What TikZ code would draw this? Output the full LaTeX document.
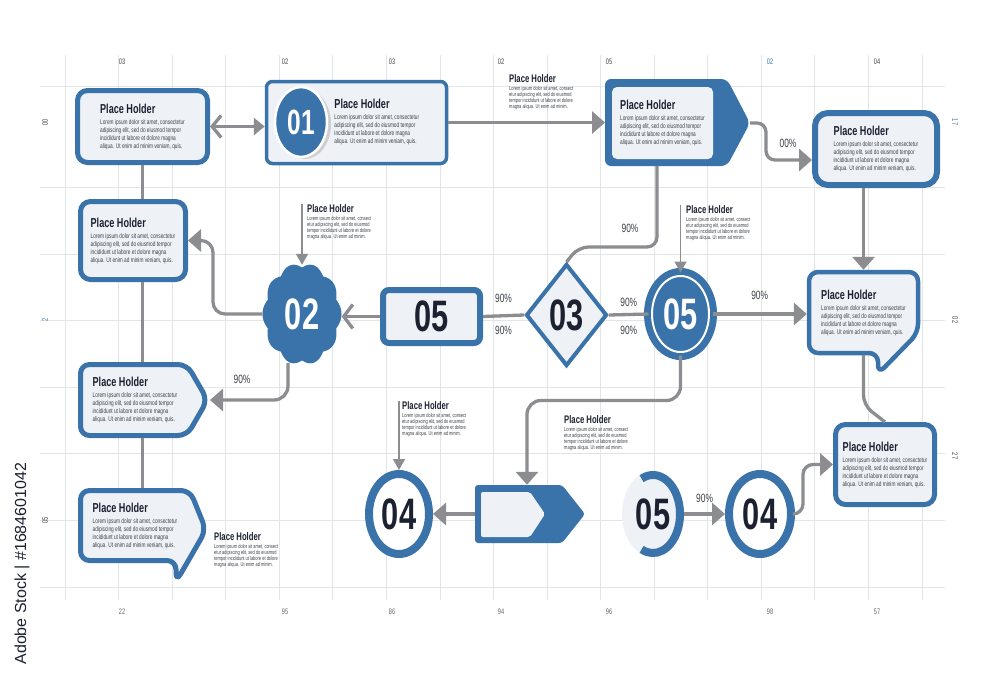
\documentclass[tikz,border=0pt]{standalone}
\usepackage{fontspec}
\setmainfont{Liberation Sans}
\newfontfamily\phcond[FakeStretch=0.7]{Liberation Sans}
\usepackage{xcolor}
\usetikzlibrary{arrows.meta,positioning,calc,shapes.geometric,shadows}

\definecolor{phblue}{HTML}{3A73AA}
\definecolor{phfill}{HTML}{EEF1F5}
\definecolor{phgray}{HTML}{8B8D90}
\definecolor{phgrid}{HTML}{E2E4E7}
\definecolor{phink}{HTML}{1B2130}
\definecolor{phtext}{HTML}{3E434A}

\newcommand\phlore{\phcond\fontsize{6.8}{8}\selectfont}
\newcommand\phnotefont{\phcond\fontsize{5.7}{6}\selectfont}
\newcommand\phtitle{{\phcond\bfseries\fontsize{13}{14}\selectfont\color{phink}Place Holder}}
\newcommand\phsmall{{\phcond\bfseries\fontsize{11}{12}\selectfont\color{phink}Place Holder}}
\newcommand\phlorem{Lorem ipsum dolor sit amet, consectetur\\adipiscing elit, sed do eiusmod tempor\\incididunt ut labore et dolore magna\\aliqua. Ut enim ad minim veniam, quis.}
\newcommand\phnote{Lorem ipsum dolor sit amet, consect\\etur adipiscing elit, sed do eiusmod\\tempor incididunt ut labore et dolore\\magna aliqua. Ut enim ad minim.}

\begin{document}
\begin{tikzpicture}[x=1pt, y=-1pt,
    font=\phcond,
    card/.style={draw=phblue, line width=5pt, fill=phfill, rounded corners=10pt,
                 align=left, inner sep=0pt, text=phtext, font=\phlore},
    body/.style={align=left, inner sep=0pt, text=phtext, font=\phlore},
    outline/.style={draw=phblue, line width=5pt, fill=phfill, rounded corners=9pt, line join=round},
    note/.style={align=left, inner sep=0pt, anchor=north west, text=phtext, font=\phnotefont},
    num/.style={font=\phcond\bfseries\fontsize{44}{44}\selectfont, text=phink},
    pct/.style={font=\phcond\fontsize{12}{12}\selectfont, text=phtext, inner sep=1pt},
    link/.style={draw=phgray, line width=3.3pt},
    flow/.style={link, -{Triangle[length=13pt,width=22pt]}},
    bar/.style={link, -{Straight Barb[length=9pt,width=24pt]}},
    ptr/.style={draw=phgray, line width=1.6pt, -{Triangle[length=11pt,width=12pt]}},
    gridln/.style={draw=phgrid, line width=0.8pt},
    axl/.style={font=\phcond\fontsize{8}{8}\selectfont, text=phtext!80},
    ]
\fill[white] (0,0) rectangle (1000,683);
\useasboundingbox (0,0) rectangle (1000,683);

\foreach \gx in {0,...,16}
  \draw[gridln] ({65+53.56*\gx},55) -- ({65+53.56*\gx},600);
\foreach \gy in {86,187,254,320,387,453,520,587}
  \draw[gridln] (40,\gy) -- (945,\gy);

\foreach \ax/\at/\ac in {122/03/phtext, 285/02/phtext, 392/03/phtext, 501/02/phtext,
                         609/05/phtext, 770/02/phblue, 877/04/phtext}
  \node[axl, text=\ac] (top\ax) at (\ax,62) {\at};
\foreach \ax/\at in {122/22, 285/95, 392/86, 501/94, 609/96, 770/98, 877/57}
  \node[axl] (bot\ax) at (\ax,612) {\at};
\foreach \ay/\at/\ac in {122/00/phtext, 320/2/phblue, 520/05/phtext}
  \node[axl, text=\ac, rotate=90] (lft\ay) at (45,\ay) {\at};
\foreach \ay/\at/\ac in {122/17/phblue, 320/02/phtext, 456/27/phtext}
  \node[axl, text=\ac, rotate=-90] (rgt\ay) at (955,\ay) {\at};

\node[rotate=90, anchor=west, font=\fontsize{16}{16}\selectfont, text=phink] (stock) at (22,668)
  {Adobe Stock | \#1684601042};

\node[card, minimum width=130, minimum height=72] (A) at (142.5,126.5) {\phtitle\\[3pt]\phlorem};
\node[card, line width=3.5pt, rounded corners=6pt, minimum width=180, minimum height=82] (b01) at (356.5,122.5) {};
\node[ellipse, fill=phblue, draw=white, line width=2.5pt, minimum width=52, minimum height=70, inner sep=0pt,
      drop shadow={fill=black!35, opacity=.45, shadow xshift=4pt, shadow yshift=-2pt},
      text=white, font=\phcond\bfseries\fontsize{35}{35}\selectfont] (c01) at (301,122) {01};
\node[body, right=6pt of c01] (t01) {\phtitle\\[3pt]\phlorem};

\fill[phblue, rounded corners=6pt] (605,79) -- (727,79) -- (750,123) -- (727,166) -- (605,166) -- cycle;
\node[body, fill=phfill, rounded corners=5pt, minimum width=101, minimum height=72] (Pt) at (662.5,123) {\phtitle\\[3pt]\phlorem};
\coordinate (Pin) at (605,123);
\coordinate (Ptip) at (750,123);
\coordinate (Pbot) at (657,166);

\node[card, line width=6pt, rounded corners=13pt, minimum width=122, minimum height=72] (TR) at (876,149) {\phtitle\\[3pt]\phlorem};
\node[card, minimum width=105, minimum height=78] (B) at (133,240.5) {\phtitle\\[3pt]\phlorem};

\draw[outline] (80.5,364.5) -- (187,364.5) -- (207.5,400) -- (187,435.5) -- (80.5,435.5) -- cycle;
\node[body, minimum width=110, minimum height=76] (Cb) at (135,400) {\phtitle\\[3pt]\phlorem};
\coordinate (Ctip) at (210,400);

\draw[outline] (80.5,490.5) -- (190,490.5) -- (206,530) -- (176,582) -- (176,560.5) -- (80.5,560.5) -- cycle;
\node[body, minimum width=110, minimum height=75] (Db) at (135,525.5) {\phtitle\\[3pt]\phlorem};

\draw[outline, line width=4.5pt] (809,272) -- (918,272) -- (918,333) -- (878,374) -- (878,353) -- (809,353) -- cycle;
\node[body, minimum width=113, minimum height=85] (R) at (863.5,312.5) {\phtitle\\[3pt]\phlorem};

\node[card, minimum width=99, minimum height=80] (BR) at (885,464.5) {\phtitle\\[3pt]\phlorem};

\node[card, line width=6pt, rounded corners=6pt, minimum width=97, minimum height=53, num] (box05) at (431.5,316.5) {05};
\node[diamond, draw=phblue, line width=4pt, fill=phfill, minimum width=81, minimum height=102, inner sep=0pt, num] (d03) at (566.5,315) {03};
\node[ellipse, fill=phblue, draw=phblue, double=white, double distance=2pt, line width=7pt,
      minimum width=57, minimum height=76, inner sep=0pt, num, text=white] (m05) at (680.5,314) {05};

\fill[phblue] plot[domain=0:360, samples=241]
  ({302+39.5*(0.91+0.09*abs(cos(5*\x)))*cos(\x)}, {314+51*(0.91+0.09*abs(cos(5*\x)))*sin(\x)}) -- cycle;
\node[ellipse, minimum width=79, minimum height=98, inner sep=0pt, num, text=white] (s02) at (302,314) {02};

\node[ellipse, draw=phblue, line width=8pt, fill=white, minimum width=60, minimum height=80, inner sep=0pt, num] (c04a) at (399,514) {04};

\fill[phblue, rounded corners=3pt] (475,485) -- (562,485) -- (585,514) -- (562,543) -- (475,543) -- cycle;
\fill[phfill, rounded corners=2pt] (481,492) -- (530,492) -- (545,514) -- (530,537) -- (481,537) -- cycle;
\node[minimum width=110, minimum height=58, inner sep=0pt] (hx) at (530,514) {};

\node[ellipse, fill=phfill, minimum width=62, minimum height=86, inner sep=0pt, num] (p05) at (653,514) {05};
\draw[phblue, line width=8pt] (p05.center) ++(115:27 and 39) arc[start angle=115, end angle=-115, x radius=27, y radius=39];

\node[ellipse, draw=phblue, line width=8pt, fill=white, minimum width=62, minimum height=80, inner sep=0pt, num] (c04b) at (760,514) {04};

\node[note] (f1) at (509,74) {\phsmall\\[2pt]\phnote};
\node[note] (f2) at (307,204) {\phsmall\\[2pt]\phnote};
\node[note] (f3) at (686,205) {\phsmall\\[2pt]\phnote};
\node[note] (f4) at (402,401) {\phsmall\\[2pt]\phnote};
\node[note] (f5) at (564,415) {\phsmall\\[2pt]\phnote};
\node[note] (f6) at (214,532) {\phsmall\\[2pt]\phnote};

\draw[link, {Straight Barb[length=9pt,width=22pt]}-{Triangle[length=11pt,width=17pt]}] (A.east) -- (A.east -| b01.west);
\draw[flow] (b01.east) -- (b01.east -| Pin);
\draw[flow, rounded corners=9pt] (Ptip) -- ++(16,0) |- ($(TR.west)+(0,11)$);
\node[pct] (p00) at (788,143) {00\%};
\draw[link, rounded corners=10pt] (Pbot) |- ($(d03.north)+(12,-15)$) -- (d03.north);
\node[pct] (p90a) at (630,228) {90\%};

\draw[link, line width=2.5pt] (A.south) -- (A.south |- B.north);
\draw[link, line width=2.5pt] (A.south |- B.south) -- (A.south |- Cb.north);
\draw[link, line width=2.5pt] (A.south |- Cb.south) -- (A.south |- Db.north);

\draw[link] (box05.east) -- (d03.west) node[pct, midway, above=10pt] {90\%} node[pct, midway, below=8pt] {90\%};
\draw[link] (d03.east) -- (m05.west) node[pct, midway, above=5pt] {90\%} node[pct, midway, below=9pt] {90\%};
\draw[bar] (box05.west) -- (box05.west -| s02.east);
\draw[flow, rounded corners=12pt] (s02.west) -| ($(B.east)+(25,0)$) -- (B.east);
\draw[flow, rounded corners=14pt] ([xshift=-14pt]s02.south) |- (Ctip);
\node[pct] (p90b) at (242,379) {90\%};

\draw[flow] (R.north |- TR.south) -- (R.north);
\draw[flow] (m05.east) -- (m05.east -| R.west) node[pct, midway, above=12pt] {90\%};
\draw[link, rounded corners=10pt] (R.south) -- ++(0,50) -- (BR.north);

\draw[flow, rounded corners=14pt] (m05.south) -- ++(0,45) -| ([xshift=-3pt]hx.north);
\draw[flow] (hx.west) -- (c04a.east);
\draw[flow] (p05.east) -- (c04b.west) node[pct, midway, above=9pt] {90\%};
\draw[flow, rounded corners=10pt] (c04b.east) -| ($(BR.west)+(-30,0)$) -- (BR.west);

\draw[ptr] (f2.north west -| s02.north) -- (s02.north);
\draw[ptr] (f3.north west -| m05.north) -- (m05.north);
\draw[ptr] (f4.north west -| c04a.north) -- (c04a.north);
\end{tikzpicture}
\end{document}
